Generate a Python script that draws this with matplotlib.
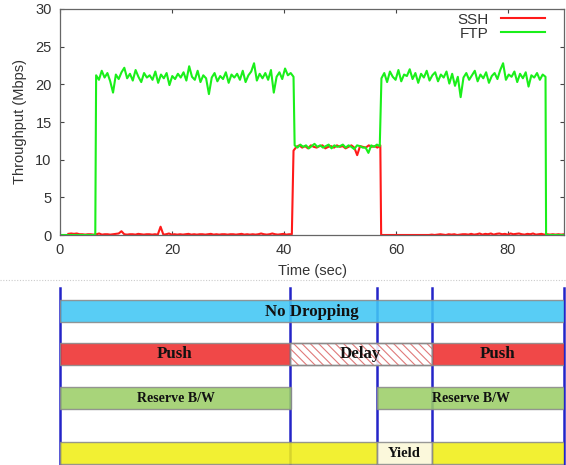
import numpy as np
import matplotlib.pyplot as plt
import matplotlib.lines as mlines

plt.rcParams['hatch.linewidth'] = 0.8

# ---- throughput data (Mbps), sampled every ~0.5 s ----
ftp_high1 = [21.2, 20.6, 21.8, 20.9, 21.5, 20.4, 18.9, 21.3, 20.7, 21.6,
             22.2, 20.8, 21.4, 20.5, 21.9, 21.0, 20.3, 21.5, 20.9, 21.2,
             20.6, 21.7, 20.2, 21.3, 20.8, 21.5, 19.9, 21.1, 20.7, 21.4,
             20.9, 21.6, 20.5, 22.4, 21.0, 20.6, 21.8, 20.3, 21.2, 20.8,
             18.7, 20.9, 21.5, 20.4, 21.1, 20.7, 21.6, 20.2, 21.3, 20.9,
             21.4, 20.6, 21.8, 20.3, 21.2, 21.7, 22.8, 20.5, 21.4, 20.8,
             21.5, 20.6, 21.9, 18.9, 21.0, 21.6, 20.7, 22.1, 21.2, 21.5,
             21.0]
ftp_mid = [11.9, 11.6, 12.0, 11.7, 11.9, 11.5, 11.8, 12.1, 11.7, 11.9,
           11.6, 11.8, 12.0, 11.5, 11.9, 11.7, 11.8, 12.0, 11.6, 11.9,
           11.7, 11.4, 11.9, 11.8, 11.6, 11.6, 10.9, 11.9, 11.7, 12.0,
           11.8]
ftp_high2 = [20.8, 21.5, 20.3, 21.7, 21.0, 20.6, 21.9, 20.4, 21.3, 21.1,
             22.0, 20.7, 21.5, 20.2, 21.4, 20.9, 21.8, 20.5, 21.2, 21.6,
             20.4, 21.3, 20.9, 21.7, 20.1, 21.4, 19.8, 21.0, 18.3, 20.9,
             21.5, 20.6, 21.2, 21.8, 20.4, 21.3, 20.8, 21.6, 20.2, 21.1,
             21.5, 20.7, 21.9, 22.8, 20.6, 21.3, 21.0, 21.7, 20.3, 21.4,
             20.8, 21.6, 19.7, 21.2, 20.9, 21.5, 20.6, 21.3, 21.0]

ssh_low1 = [0.15, 0.2, 0.15, 0.2, 0.1, 0.1, 0.05, 0.1, 0.1, 0.05,
            0.1, 0.2, 0.05, 0.1, 0.1, 0.05, 0.1, 0.15, 0.2, 0.5,
            0.1, 0.05, 0.1, 0.1, 0.05, 0.15, 0.1, 0.05, 0.1, 0.1,
            0.05, 0.1, 0.05, 1.1, 0.05, 0.1, 0.2, 0.05, 0.1, 0.05,
            0.1, 0.05, 0.1, 0.15, 0.05, 0.1, 0.05, 0.1, 0.1, 0.05,
            0.1, 0.15, 0.05, 0.1, 0.05, 0.1, 0.1, 0.05, 0.1, 0.1,
            0.05, 0.1, 0.15, 0.05, 0.1, 0.05, 0.1, 0.05, 0.1, 0.2,
            0.1, 0.05, 0.1, 0.2, 0.1, 0.05, 0.1, 0.15, 0.05, 0.1,
            0.1]
ssh_mid = [11.2, 11.7, 11.9, 11.6, 11.8, 11.5, 11.9, 11.7, 11.6, 11.8,
           11.9, 11.5, 11.7, 11.8, 11.6, 11.9, 11.7, 11.8, 11.5, 11.7,
           11.9, 11.6, 10.6, 11.8, 11.7, 11.6, 11.9, 11.7, 11.8, 11.6,
           11.9]
ssh_low2 = [0.0, 0.0, 0.0, 0.0, 0.0, 0.0, 0.0, 0.0, 0.0, 0.0,
            0.0, 0.0, 0.0, 0.0, 0.0, 0.0, 0.0, 0.0, 0.05, 0.0,
            0.05, 0.1, 0.05, 0.0, 0.1, 0.05, 0.1, 0.0, 0.05, 0.1,
            0.1, 0.05, 0.15, 0.05, 0.1, 0.2, 0.05, 0.15, 0.1, 0.2,
            0.05, 0.15, 0.2, 0.1, 0.15, 0.05, 0.2, 0.1, 0.15, 0.2,
            0.1, 0.05, 0.15, 0.1, 0.2, 0.05, 0.1, 0.15, 0.05, 0.1,
            0.05, 0.1, 0.05, 0.1, 0.05, 0.1]

# (start time, end time, values)
ftp_segments = [(0.0, 6.3, [0.0, 0.0]),
                (6.45, 41.7, ftp_high1),
                (41.9, 57.1, ftp_mid),
                (57.4, 86.7, ftp_high2),
                (86.8, 90.0, [0.0, 0.0])]
ssh_segments = [(1.5, 41.4, ssh_low1),
                (41.7, 57.2, ssh_mid),
                (57.35, 90.0, ssh_low2)]


def build(segments):
    t, v = [], []
    for start, end, vals in segments:
        t.extend(np.linspace(start, end, len(vals)))
        v.extend(vals)
    return np.array(t), np.array(v)


# ---- policy diagram ----
phase_edges = [0, 41, 56.6, 66.4, 90]
rows = [
    # (label, [(start, end, color, text, hatch)])
    ('drop', [(0, 90, '#41c7f4', 'No Dropping', None)]),
    ('push', [(0, 41, '#ee2f2f', 'Push', None),
              (41, 66.4, 'white', 'Delay', '\\\\\\\\'),
              (66.4, 90, '#ee2f2f', 'Push', None)]),
    ('resv', [(0, 41.3, '#9ccf68', 'Reserve B/W', None),
              (56.6, 90, '#9ccf68', 'Reserve B/W', None)]),
    ('yield', [(0, 56.6, '#f1ee16', '', None),
               (56.6, 66.4, '#fbf8d6', 'Yield', None),
               (66.4, 90, '#f1ee16', '', None)]),
]
row_center = [311, 354, 398, 453]
row_size = [12.2, 12.2, 10, 10.5]

W, H = 566, 465
fig = plt.figure(figsize=(W / 100, H / 100), dpi=100)

ax_l, ax_r = 60 / W, 564 / W
ax = fig.add_axes([ax_l, (H - 235) / H, ax_r - ax_l, 226 / H])

t_ssh, v_ssh = build(ssh_segments)
t_ftp, v_ftp = build(ftp_segments)
ax.plot(t_ssh, v_ssh, color='#ff1a1a', lw=1.5, label='SSH')
ax.plot(t_ftp, v_ftp, color='#1aef1a', lw=1.5, label='FTP')

ax.set_xlim(0, 90)
ax.set_ylim(0, 30)
ax.set_xticks([0, 20, 40, 60, 80])
ax.set_yticks([0, 5, 10, 15, 20, 25, 30])
ax.tick_params(direction='in', length=3, top=True, right=True,
               labelsize=10.5, colors='#444444', labelcolor='#333333', pad=6,
               width=0.8)
for s in ax.spines.values():
    s.set_color('#666666')
    s.set_linewidth(0.9)
for lbl in ax.get_xticklabels() + ax.get_yticklabels():
    lbl.set_family('Liberation Sans')
ax.set_xlabel('Time (sec)', fontsize=10.5, color='#333333', family='Liberation Sans', labelpad=5)
ax.set_ylabel('Throughput (Mbps)', fontsize=10.5, color='#333333', family='Liberation Sans', labelpad=6)
leg = ax.legend(loc='upper right', bbox_to_anchor=(0.99, 1.045), frameon=False,
                markerfirst=False, handlelength=2.9, handletextpad=0.8,
                labelspacing=0.0, prop={'family': 'Liberation Sans', 'size': 11})
for txt in leg.get_texts():
    txt.set_color('#333333')

# dotted separator
fig.add_artist(mlines.Line2D([0, 1], [1 - 280 / H, 1 - 280 / H], color='#cccccc',
                             lw=0.8, ls=(0, (1, 1.5))))

# diagram axes: x in seconds, y in pixels from top
bx = fig.add_axes([ax_l, 0, ax_r - ax_l, (H - 283) / H])
bx.set_xlim(0, 90)
bx.set_ylim(H, 283)
bx.axis('off')

for x in phase_edges:
    bx.plot([x, x], [288, H], color='#2424c8', lw=1.8, zorder=1, clip_on=False)

for (name, segs), yc, fs in zip(rows, row_center, row_size):
    for start, end, color, text, hatch in segs:
        bx.barh(yc, end - start, left=start, height=22, color=color,
                edgecolor='#8a8a8a', lw=1.0, alpha=0.88, zorder=2)
        if hatch:
            bx.barh(yc, end - start, left=start, height=22, color='none',
                    edgecolor='#e07a7a', hatch=hatch, lw=0, zorder=2)
            bx.barh(yc, end - start, left=start, height=22, color='none',
                    edgecolor='#8a8a8a', lw=1.0, zorder=2)
        if text:
            bx.text((start + end) / 2, yc + 0.5, text, ha='center', va='center',
                    fontsize=fs, fontweight='bold', family='Liberation Serif',
                    color='#111111', zorder=3)

fig.savefig('out.png', dpi=100)
